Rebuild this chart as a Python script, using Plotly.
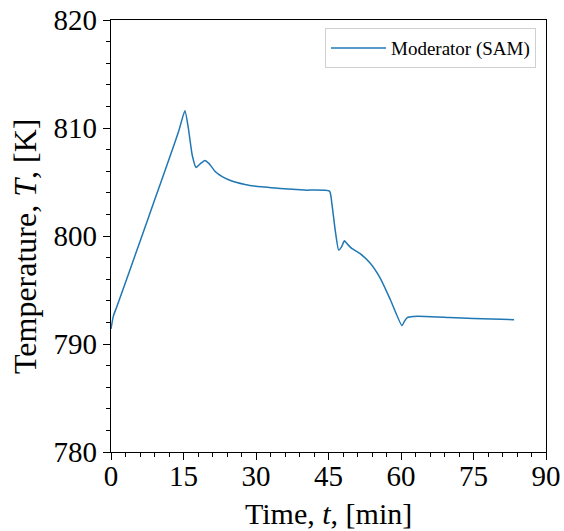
import plotly.graph_objects as go

# Moderator temperature transient computed with SAM
time_min = [0, 0.5, 1.2, 3, 6, 9, 12, 14, 15.3, 16.0, 16.8, 17.6, 18.5, 19.4,
            20.3, 21.5, 23, 25, 27.5, 30, 35, 40, 45.2, 45.7, 46.4, 47.1, 47.7,
            48.3, 49.0, 49.8, 51.6, 53.6, 55.7, 57.8, 60.2, 60.7, 61.3, 62.6,
            65, 70, 75, 83.4]
temp_K = [791.4, 792.6, 793.45, 795.7, 799.5, 803.3, 807.1, 809.7, 811.6,
          810.0, 807.5, 806.35, 806.7, 807.0, 806.7, 806.0, 805.5, 805.1,
          804.8, 804.6, 804.4, 804.25, 804.15, 803.0, 800.5, 798.7, 799.0,
          799.55, 799.2, 798.85, 798.35, 797.5, 796.1, 794.1, 791.7, 792.1,
          792.45, 792.55, 792.55, 792.45, 792.35, 792.25]

x_ticks = [0, 15, 30, 45, 60, 75, 90]
y_ticks = [780, 790, 800, 810, 820]

FONT = "Liberation Serif"

fig = go.Figure()
fig.add_trace(go.Scatter(
    x=time_min, y=temp_K, mode="lines", name="Moderator (SAM)",
    line=dict(color="#1f77b4", width=1.5, shape="spline", smoothing=0.5),
))

axis_common = dict(
    showline=True, linecolor="black", linewidth=1.2, mirror=True,
    showgrid=False, zeroline=False, ticks="outside", ticklen=7,
    tickwidth=1.2, tickcolor="black", automargin=False,
    tickfont=dict(family=FONT, size=29, color="black"),
)

fig.update_xaxes(
    range=[0, 90], tickvals=x_ticks, ticklabelstandoff=-9,
    minor=dict(dtick=3, ticks="outside", ticklen=4, tickcolor="black", tickwidth=1),
    **axis_common,
)
fig.update_yaxes(
    range=[780, 820], tickvals=y_ticks,
    minor=dict(dtick=2, ticks="outside", ticklen=4, tickcolor="black", tickwidth=1),
    **axis_common,
)

# Axis titles
fig.add_annotation(
    text="Time, <i>t</i>, [min]", xref="paper", yref="paper", x=0.5, y=0,
    xanchor="center", yanchor="middle", yshift=-61, showarrow=False,
    font=dict(family=FONT, size=30, color="black"),
)
fig.add_annotation(
    text="Temperature, <i>T</i>, [K]", xref="paper", yref="paper", x=0, y=0.5,
    xanchor="center", yanchor="middle", xshift=-86, yshift=-11, textangle=-90,
    showarrow=False, font=dict(family=FONT, size=32, color="black"),
)

fig.update_layout(
    width=564, height=531,
    margin=dict(l=111, r=18, t=20, b=79),
    plot_bgcolor="white", paper_bgcolor="white",
    showlegend=True,
    legend=dict(
        x=0.977, y=0.981, xanchor="right", yanchor="top", itemwidth=55,
        bordercolor="#d0d0d0", borderwidth=1, bgcolor="rgba(255,255,255,0.8)",
        font=dict(family=FONT, size=19, color="black"),
    ),
)

fig.write_html("out.html")
